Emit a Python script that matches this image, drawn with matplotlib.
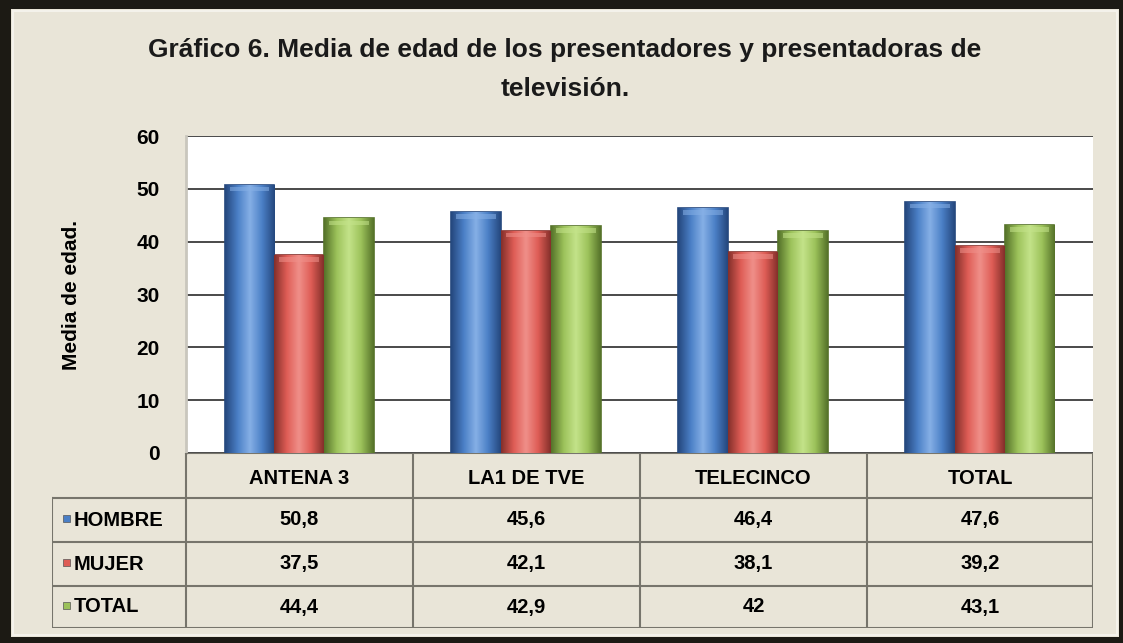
import matplotlib.pyplot as plt
import matplotlib.patches as mpatches
import numpy as np
from matplotlib.colors import LinearSegmentedColormap

plt.rcParams['font.family'] = ['Liberation Sans Narrow', 'Liberation Sans', 'DejaVu Sans']

categories = ['ANTENA 3', 'LA1 DE TVE', 'TELECINCO', 'TOTAL']
series_names = ['HOMBRE', 'MUJER', 'TOTAL']
hombre = [50.8, 45.6, 46.4, 47.6]
mujer = [37.5, 42.1, 38.1, 39.2]
total = [44.4, 42.9, 42, 43.1]
yticks = [0, 10, 20, 30, 40, 50, 60]

series = [hombre, mujer, total]
colors = ['#4a7fc6', '#de5c55', '#9cc25a']
dark = ['#25487e', '#85302b', '#56732a']
light = ['#86b0e6', '#f0908a', '#c4e38a']

W, H = 1123, 643
fig = plt.figure(figsize=(W / 100, H / 100), dpi=100)
fig.patch.set_facecolor('#e9e5d8')


def px(x0, y0, x1, y1):
    return [x0 / W, 1 - y1 / H, (x1 - x0) / W, (y1 - y0) / H]


# dark frame around the picture
bg = fig.add_axes([0, 0, 1, 1], zorder=-5)
bg.set_xlim(0, W)
bg.set_ylim(H, 0)
bg.axis('off')
frame = '#1c1a14'
bg.add_patch(mpatches.Rectangle((0, 0), W, 9, color=frame, lw=0))
bg.add_patch(mpatches.Rectangle((0, 0), 11, H, color=frame, lw=0))
bg.add_patch(mpatches.Rectangle((W - 4, 0), 4, H, color=frame, lw=0))
bg.add_patch(mpatches.Rectangle((0, H - 6), W, 6, color=frame, lw=0))
bg.add_patch(mpatches.Rectangle((13, 11), W - 19, H - 19, fill=False, ec='#f4f2eb', lw=1.5))

fig.text(565 / W, 1 - 50 / H,
         'Gráfico 6. Media de edad de los presentadores y presentadoras de',
         ha='center', va='center', fontsize=19, fontweight='bold', color='#1a1a1a')
fig.text(565 / W, 1 - 89 / H, 'televisión.',
         ha='center', va='center', fontsize=19, fontweight='bold', color='#1a1a1a')

ax = fig.add_axes(px(186, 136, 1093, 453))
ax.set_facecolor('white')
ax.set_yticks(yticks)
ax.set_yticklabels([str(t) for t in yticks], fontsize=15, fontweight='bold')
ax.tick_params(axis='y', length=0, pad=19)
ax.set_xticks([])
for s in ax.spines.values():
    s.set_visible(False)
ax.spines['left'].set_visible(True)
ax.spines['left'].set_color('#c9c6bd')
ax.spines['left'].set_linewidth(2)
ax.grid(axis='y', color='#4a4a4a', lw=1.4)
ax.set_axisbelow(True)
ax.set_ylabel('Media de edad.', fontsize=15, fontweight='bold', labelpad=40)

bw = 0.22
x = np.arange(len(categories)) + 0.5
grad = np.linspace(0, 1, 64).reshape(1, -1)
for i, vals in enumerate(series):
    cmap = LinearSegmentedColormap.from_list(
        'c%d' % i, [dark[i], colors[i], light[i], colors[i], dark[i]])
    bars = ax.bar(x + (i - 1) * bw, vals, bw, color=colors[i],
                  edgecolor=dark[i], lw=1.2, zorder=3)
    for b in bars:
        x0, w, h = b.get_x(), b.get_width(), b.get_height()
        im = ax.imshow(grad, cmap=cmap, aspect='auto', extent=[x0, x0 + w, 0, h],
                       zorder=3.5, interpolation='bicubic')
        im.set_clip_path(b)
        # soft bevel on top
        ax.add_patch(mpatches.Rectangle((x0 + w * 0.1, h - 1.3), w * 0.8, 0.9,
                                        color=light[i], alpha=0.55, zorder=4, lw=0))
ax.set_xlim(0, len(categories))
ax.set_ylim(0, 60)

# data table below the plot
tb = fig.add_axes(px(52, 453, 1093, 628))
tb.set_xlim(52, 1093)
tb.set_ylim(628, 453)
tb.axis('off')
col_edges = [186, 413, 640, 867, 1093]
row_edges = [453, 498, 542, 586, 628]
line = dict(color='#77756c', lw=1.5)
tb.plot([186, 1093], [453, 453], **line)
for yy in row_edges[1:]:
    tb.plot([52, 1093], [yy, yy], **line)
for xx in col_edges:
    tb.plot([xx, xx], [453, 628], **line)
tb.plot([52, 52], [498, 628], **line)
for j, cat in enumerate(categories):
    cx = (col_edges[j] + col_edges[j + 1]) / 2
    tb.text(cx, 478, cat, ha='center', va='center', fontsize=14.5, fontweight='bold')
for i, name in enumerate(series_names):
    cy = (row_edges[i + 1] + row_edges[i + 2]) / 2
    tb.add_patch(mpatches.Rectangle((63, cy - 5), 7, 7, color=colors[i], ec='#555', lw=0.5))
    tb.text(74, cy, name, ha='left', va='center', fontsize=14.5, fontweight='bold')
    for j, v in enumerate(series[i]):
        cx = (col_edges[j] + col_edges[j + 1]) / 2
        txt = ('%g' % v).replace('.', ',')
        tb.text(cx, cy, txt, ha='center', va='center', fontsize=14.5, fontweight='bold')

fig.savefig('out.png', dpi=100, facecolor=fig.get_facecolor())
